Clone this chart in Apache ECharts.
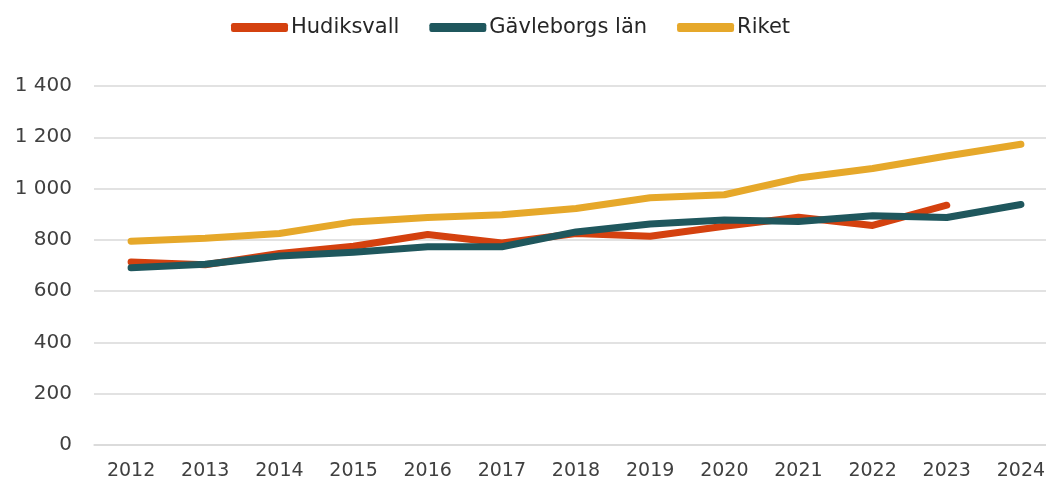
<!DOCTYPE html>
<html>
<head>
<meta charset="utf-8">
<script src="https://cdn.jsdelivr.net/npm/echarts@6/dist/echarts.min.js"></script>
<style>
  html, body { margin: 0; padding: 0; background: #fff; }
  #chart { width: 1046px; height: 486px; }
</style>
</head>
<body>
<div id="chart"></div>
<script>
  var years = ['2012', '2013', '2014', '2015', '2016', '2017', '2018', '2019', '2020', '2021', '2022', '2023', '2024'];
  var hudiksvall = [714, 703, 747, 775, 821, 788, 825, 814, 853, 888, 856, 935, null];
  var gavleborg = [691, 705, 737, 752, 773, 773, 831, 862, 877, 872, 894, 887, 938];
  var riket = [795, 806, 825, 870, 887, 898, 922, 964, 976, 1041, 1078, 1127, 1173];

  var chart = echarts.init(document.getElementById('chart'));
  var font = '"DejaVu Sans", sans-serif';

  function line(name, data, color) {
    return {
      name: name,
      type: 'line',
      data: data,
      symbol: 'none',
      color: color,
      lineStyle: { width: 7, color: color, cap: 'round', join: 'round' }
    };
  }

  chart.setOption({
    animation: false,
    textStyle: { fontFamily: font },
    legend: {
      top: 12,
      left: 226,
      itemWidth: 57,
      itemHeight: 9,
      itemGap: 30,
      icon: 'roundRect',
      textStyle: { fontSize: 21, color: '#262626', fontFamily: font, padding: [0, 0, 0, -2] }
    },
    grid: {
      left: 94, top: 86, right: -12, bottom: 41,
      containLabel: false,
      outerBoundsMode: 'none'
    },
    xAxis: {
      type: 'category',
      data: years,
      boundaryGap: true,
      axisTick: { show: false },
      axisLine: { lineStyle: { color: '#d9d9d9', width: 1.5 } },
      axisLabel: { fontSize: 19, color: '#404040', margin: 17 }
    },
    yAxis: {
      type: 'value',
      min: 0,
      max: 1400,
      interval: 200,
      axisLabel: {
        fontSize: 20,
        color: '#404040',
        margin: 22,
        formatter: function (v) {
          return String(v).replace(/\B(?=(\d{3})+(?!\d))/g, ' ');
        }
      },
      splitLine: { lineStyle: { color: '#d9d9d9', width: 1.5 } }
    },
    series: [
      line('Hudiksvall', hudiksvall, '#D4410F'),
      line('Gävleborgs län', gavleborg, '#1F575D'),
      line('Riket', riket, '#E6A82A')
    ]
  });
</script>
</body>
</html>
